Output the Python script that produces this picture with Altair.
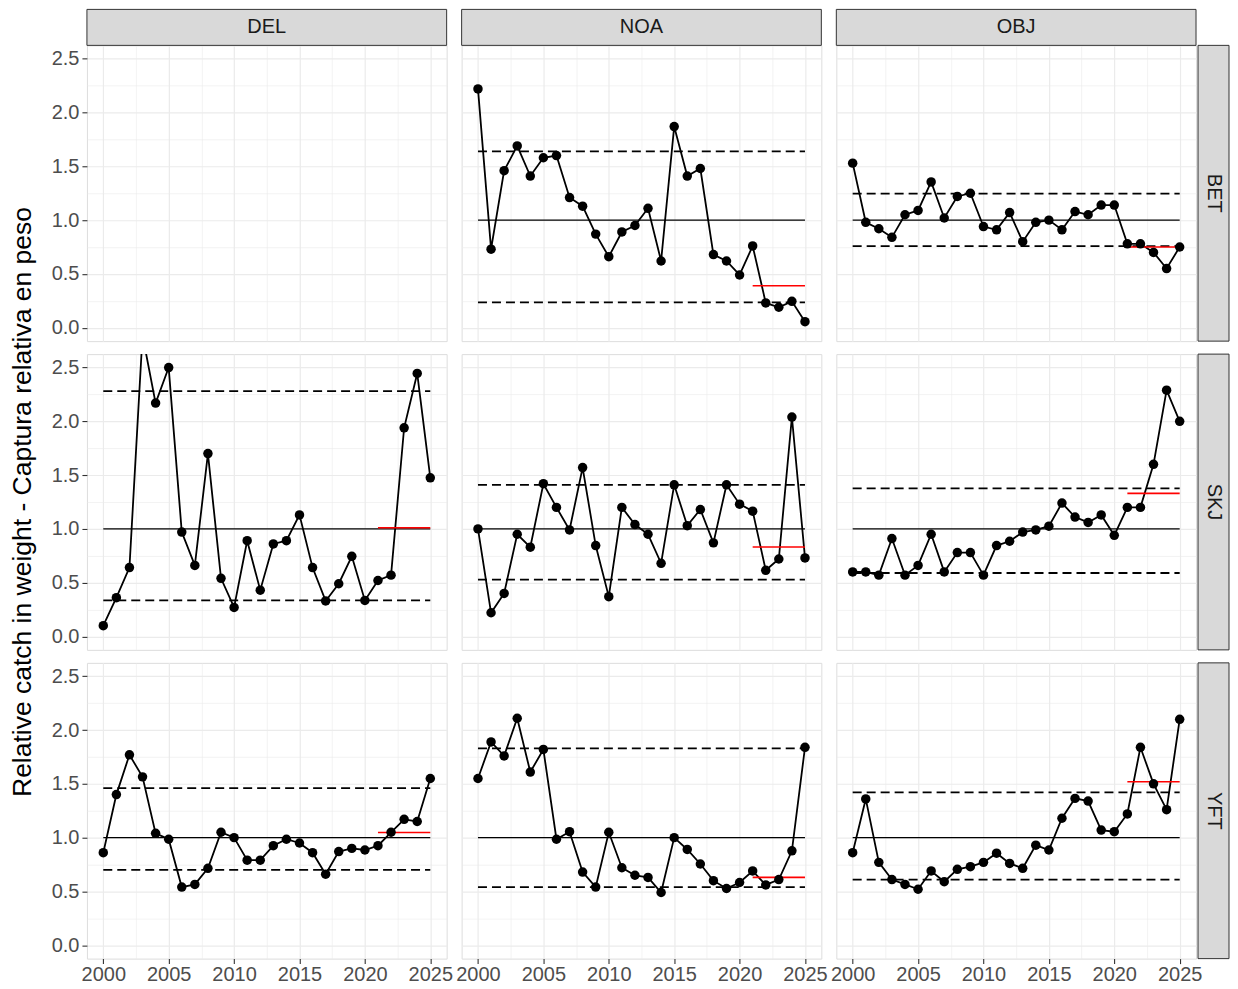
import altair as alt
import pandas as pd

# ---------------- data ----------------
years = list(range(2000, 2026))
gears = ["DEL", "NOA", "OBJ"]
species = ["BET", "SKJ", "YFT"]

NOA_BET = [2.22, 0.73, 1.46, 1.69, 1.41, 1.58, 1.60, 1.21, 1.13, 0.87, 0.66, 0.89, 0.95,
           1.11, 0.62, 1.87, 1.41, 1.48, 0.68, 0.62, 0.49, 0.76, 0.23, 0.19, 0.245, 0.056]
OBJ_BET = [1.53, 0.98, 0.92, 0.84, 1.05, 1.09, 1.355, 1.02, 1.22, 1.25, 0.94, 0.91, 1.07,
           0.80, 0.98, 1.00, 0.91, 1.08, 1.05, 1.14, 1.14, 0.78, 0.78, 0.70, 0.55, 0.75]
DEL_SKJ = [0.10, 0.36, 0.64, 2.80, 2.17, 2.50, 0.97, 0.66, 1.70, 0.54, 0.27, 0.89, 0.43,
           0.86, 0.89, 1.13, 0.64, 0.33, 0.49, 0.745, 0.335, 0.52, 0.57, 1.94, 2.445, 1.475]
NOA_SKJ = [1.00, 0.22, 0.40, 0.95, 0.83, 1.42, 1.20, 0.99, 1.57, 0.845, 0.37, 1.20, 1.04,
           0.95, 0.68, 1.41, 1.03, 1.18, 0.87, 1.41, 1.23, 1.165, 0.615, 0.72, 2.04, 0.73]
OBJ_SKJ = [0.60, 0.60, 0.57, 0.91, 0.57, 0.66, 0.95, 0.60, 0.78, 0.78, 0.57, 0.845, 0.885,
           0.97, 0.99, 1.025, 1.24, 1.11, 1.06, 1.13, 0.94, 1.20, 1.20, 1.60, 2.29, 2.00]
DEL_YFT = [0.86, 1.40, 1.77, 1.565, 1.04, 0.985, 0.54, 0.565, 0.715, 1.05, 1.00, 0.79, 0.79,
           0.925, 0.985, 0.95, 0.86, 0.66, 0.87, 0.90, 0.885, 0.925, 1.05, 1.17, 1.15, 1.55]
NOA_YFT = [1.55, 1.89, 1.76, 2.11, 1.61, 1.82, 0.985, 1.055, 0.68, 0.54, 1.05, 0.72, 0.65,
           0.63, 0.49, 1.00, 0.89, 0.755, 0.60, 0.527, 0.583, 0.69, 0.56, 0.61, 0.877, 1.84]
OBJ_YFT = [0.86, 1.36, 0.77, 0.61, 0.565, 0.52, 0.69, 0.59, 0.705, 0.73, 0.77, 0.855, 0.76,
           0.715, 0.93, 0.885, 1.18, 1.365, 1.34, 1.07, 1.055, 1.22, 1.84, 1.50, 1.26, 2.10]

series = {
    ("NOA", "BET"): NOA_BET, ("OBJ", "BET"): OBJ_BET,
    ("DEL", "SKJ"): DEL_SKJ, ("NOA", "SKJ"): NOA_SKJ, ("OBJ", "SKJ"): OBJ_SKJ,
    ("DEL", "YFT"): DEL_YFT, ("NOA", "YFT"): NOA_YFT, ("OBJ", "YFT"): OBJ_YFT,
}
# reference levels: upper dashed, lower dashed, recent (red) level
upper_ref = {("NOA", "BET"): 1.64, ("OBJ", "BET"): 1.247, ("DEL", "SKJ"): 2.28,
             ("NOA", "SKJ"): 1.41, ("OBJ", "SKJ"): 1.376, ("DEL", "YFT"): 1.46,
             ("NOA", "YFT"): 1.83, ("OBJ", "YFT"): 1.42}
lower_ref = {("NOA", "BET"): 0.236, ("OBJ", "BET"): 0.758, ("DEL", "SKJ"): 0.335,
             ("NOA", "SKJ"): 0.528, ("OBJ", "SKJ"): 0.59, ("DEL", "YFT"): 0.70,
             ("NOA", "YFT"): 0.54, ("OBJ", "YFT"): 0.61}
recent_ref = {("NOA", "BET"): 0.39, ("OBJ", "BET"): 0.75, ("DEL", "SKJ"): 1.01,
              ("NOA", "SKJ"): 0.832, ("OBJ", "SKJ"): 1.33, ("DEL", "YFT"): 1.048,
              ("NOA", "YFT"): 0.63, ("OBJ", "YFT"): 1.52}
period_start, period_end = 2000, 2025
recent_start = 2021
x_ticks = [2000, 2002.5, 2005, 2007.5, 2010, 2012.5, 2015, 2017.5, 2020, 2022.5, 2025]
y_ticks = [0, 0.25, 0.5, 0.75, 1.0, 1.25, 1.5, 1.75, 2.0, 2.25, 2.5]
YTITLE = "Relative catch in weight - Captura relativa en peso"

# ---------------- style ----------------
W, H = 360, 296
VSP, HSP = 13, 15
STRIP, RSTRIP = 36, 31
TW = 63  # width of the column holding the y title (includes the gap)
FONT = "Liberation Sans"
XDOM = [1998.75, 2026.25]
YDOM = [-0.125, 2.625]
TICKFS = 20

xmajor = "datum.value % 5 == 0"
ymajor = "abs(datum.value * 2 - round(datum.value * 2)) < 0.001"


def make_axis(show, major, fmt, orient):
    ax = dict(values=x_ticks if orient == "x" else y_ticks, title=None, domain=False,
              grid=True, gridColor="#EBEBEB",
              gridWidth={"condition": {"test": major, "value": 1.2}, "value": 0.6},
              labelOverlap=False)
    if show:
        ax.update(labels=True, ticks=True, tickSize=5, tickWidth=1.1,
                  tickColor={"condition": {"test": major, "value": "#333333"}, "value": "transparent"},
                  labelExpr=f"({major}) ? format(datum.value, '{fmt}') : ''",
                  labelFont=FONT, labelFontSize=TICKFS, labelColor="#4D4D4D",
                  labelPadding=1 if orient == "x" else 3)
    else:
        ax.update(labels=False, ticks=False)
    return alt.Axis(**ax)


def panel(g, s, show_x, show_y, top_strip, right_strip):
    xax = make_axis(show_x, xmajor, "d", "x")
    yax = make_axis(show_y, ymajor, ".1f", "y")
    xs = alt.Scale(domain=XDOM, nice=False, zero=False)
    ys = alt.Scale(domain=YDOM, nice=False, zero=False)

    def X(f):
        return alt.X(f, type="quantitative", scale=xs, axis=xax)

    def Y(f):
        return alt.Y(f, type="quantitative", scale=ys, axis=yax)

    frame = alt.Chart(pd.DataFrame({"x": [XDOM[0]], "y": [YDOM[0]]})).mark_point(
        opacity=0).encode(x=X("x"), y=Y("y"))
    layers = [frame]
    key = (g, s)
    if key in series:
        refs = pd.DataFrame({
            "x": [period_start, period_start, period_start, recent_start],
            "x2": [period_end, period_end, period_end, period_end],
            "y": [1.0, upper_ref[key], lower_ref[key], recent_ref[key]],
            "kind": ["mid", "band", "band", "recent"],
        })
        solid = alt.Chart(refs).transform_filter("datum.kind == 'mid'").mark_rule(
            color="black", strokeWidth=1.2).encode(x=X("x"), x2="x2", y=Y("y"))
        dashed = alt.Chart(refs).transform_filter("datum.kind == 'band'").mark_rule(
            color="black", strokeWidth=1.8, strokeDash=[9, 5]).encode(x=X("x"), x2="x2", y=Y("y"))
        red = alt.Chart(refs).transform_filter("datum.kind == 'recent'").mark_rule(
            color="#FF0000", strokeWidth=1.6).encode(x=X("x"), x2="x2", y=Y("y"))
        df = pd.DataFrame({"year": years, "value": series[key]})
        line = alt.Chart(df).mark_line(color="black", strokeWidth=1.8, clip=True).encode(
            x=X("year"), y=Y("value"))
        pts = alt.Chart(df).mark_circle(color="black", size=90, opacity=1, clip=True).encode(
            x=X("year"), y=Y("value"))
        layers += [solid, dashed, line, red, pts]
    if top_strip:
        sd = pd.DataFrame({"label": [g]})
        layers.append(alt.Chart(sd).mark_rect(fill="#D9D9D9", stroke="#333333", strokeWidth=1).encode(
            x=alt.value(0), x2=alt.value(W), y=alt.value(-STRIP), y2=alt.value(0)))
        layers.append(alt.Chart(sd).mark_text(font=FONT, fontSize=TICKFS, color="#1A1A1A",
                                              align="center", baseline="middle").encode(
            text="label:N", x=alt.value(W / 2), y=alt.value(-STRIP / 2)))
    if right_strip:
        sd = pd.DataFrame({"label": [s]})
        layers.append(alt.Chart(sd).mark_rect(fill="#D9D9D9", stroke="#333333", strokeWidth=1).encode(
            x=alt.value(W + 2), x2=alt.value(W + 2 + RSTRIP), y=alt.value(0), y2=alt.value(H)))
        layers.append(alt.Chart(sd).mark_text(font=FONT, fontSize=TICKFS, color="#1A1A1A", angle=90,
                                              align="center", baseline="middle").encode(
            text="label:N", x=alt.value(W + 2 + RSTRIP / 2), y=alt.value(H / 2)))
    return alt.layer(*layers).properties(width=W, height=H)


def title_cell(text):
    return alt.Chart(pd.DataFrame({"t": [text]})).mark_text(
        angle=270, font=FONT, fontSize=26.5, color="black", align="center", baseline="middle").encode(
        text="t:N", x=alt.value(14), y=alt.value(H / 2)).properties(
        width=TW, height=H, view=alt.ViewBackground(stroke="transparent"))


cells = []
for i, s in enumerate(species):
    cells.append(title_cell(YTITLE if i == 1 else ""))
    for j, g in enumerate(gears):
        cells.append(panel(g, s, show_x=(i == len(species) - 1), show_y=(j == 0),
                           top_strip=(i == 0), right_strip=(j == len(gears) - 1)))

chart = alt.concat(*cells, columns=4, spacing={"row": VSP, "column": HSP}, bounds="flush").properties(
    padding={"top": 0, "left": 0, "right": 0, "bottom": 0}
).configure_view(stroke="#333333", strokeWidth=1).configure(background="white")

chart.save("out.html", embed_options={"renderer": "svg", "actions": False})
